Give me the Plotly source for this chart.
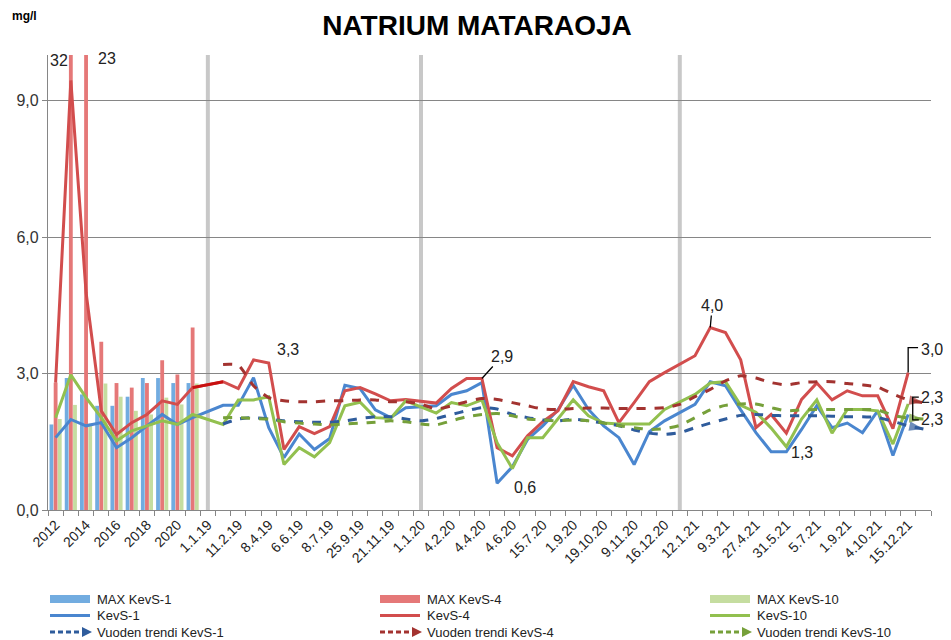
import plotly.graph_objects as go

# yearly maxima / means 2012-2021, then single measurements 2019-2021
years = ["2012", "2013", "2014", "2015", "2016", "2017", "2018", "2019", "2020", "2021"]
tick_labels = ["2012", "2014", "2016", "2018", "2020",
               "1.1.19", "11.2.19", "8.4.19", "6.6.19", "8.7.19", "25.9.19", "21.11.19",
               "1.1.20", "4.2.20", "4.4.20", "4.6.20", "15.7.20", "1.9.20", "19.10.20",
               "9.11.20", "16.12.20", "12.1.21", "9.3.21", "27.4.21", "31.5.21", "5.7.21",
               "1.9.21", "4.10.21", "15.12.21"]
n_cat = 58
year_starts = [10, 24, 41]   # 1.1.19, 1.1.20, 1.1.21
trend_start = 11

max_kevs1 = [1.88, 2.90, 2.54, 2.29, 2.29, 2.49, 2.90, 2.90, 2.79, 2.79]
max_kevs4 = [2.80, 32.0, 23.0, 3.70, 2.79, 2.69, 2.79, 3.29, 2.98, 4.01]
max_kevs10 = [2.00, 2.31, 1.90, 2.78, 2.49, 2.18, 2.10, 2.47, 2.32, 2.78]

kevs1 = [1.59, 1.99, 1.85, 1.92, 1.37, 1.59, 1.85, 2.10, 1.88, 2.03,
         None,
         2.30, 2.30, 2.91, 1.81, 1.15, 1.67, 1.33, 1.57, 2.74, 2.67, 2.20, 2.03, 2.25,
         None,
         2.29, 2.54, 2.62, 2.80, 0.59, 0.95, 1.55, 1.85, 2.20, 2.74, 2.21, 1.85, 1.59, 1.00, 1.72, 1.96,
         None,
         2.32, 2.82, 2.73, 2.20, 1.70, 1.28, 1.28, 1.77, 2.29, 1.81, 1.91, 1.70, 2.18, 1.20, 2.10,
         None]
kevs4 = [2.80, 9.44, 4.78, 2.18, 1.66, 1.92, 2.10, 2.40, 2.32, 2.69,
         None,
         2.82, 2.67, 3.30, 3.23, 1.33, 1.83, 1.68, 1.83, 2.62, 2.69, 2.55, 2.40, 2.43,
         None,
         2.35, 2.67, 2.89, 2.89, 1.37, 1.19, 1.63, 1.94, 2.18, 2.82, 2.71, 2.62, 1.92, 2.36, 2.82, 3.02,
         None,
         3.39, 4.01, 3.90, 3.30, 1.81, 2.10, 1.69, 2.43, 2.79, 2.42, 2.62, 2.51, 2.51, 1.79, 3.02,
         None]
kevs10 = [2.03, 2.97, 2.47, 2.03, 1.52, 1.74, 1.85, 1.96, 1.88, 2.10,
          None,
          1.88, 2.42, 2.42, 2.49, 1.00, 1.37, 1.17, 1.48, 2.29, 2.37, 2.03, 2.01, 2.40,
          None,
          2.13, 2.36, 2.29, 2.42, 1.48, 0.91, 1.59, 1.59, 2.00, 2.42, 2.07, 1.91, 1.89, 1.89, 1.89, 2.21,
          None,
          2.54, 2.79, 2.82, 2.30, 2.15, 1.80, 1.39, 2.00, 2.42, 1.69, 2.21, 2.21, 2.18, 1.45, 2.33,
          None]

trend1 = [1.89, 2.00, 2.03, 2.00, 1.96, 1.94, 1.93, 1.93, 1.96, 2.01, 2.05, 2.05, 2.00,
          1.96,
          2.01, 2.10, 2.18, 2.25, 2.22, 2.10, 2.03, 1.98, 1.96, 2.00, 1.96, 1.91, 1.85, 1.76, 1.69, 1.66,
          1.70,
          1.81, 1.91, 2.00, 2.08, 2.10, 2.08, 2.07, 2.07, 2.07, 2.06, 2.05, 2.05, 2.03, 1.95, 1.85, 1.78]
trend4 = [3.20, 3.18, 2.73, 2.47, 2.40, 2.38, 2.38, 2.40, 2.40, 2.42, 2.42, 2.38, 2.38,
          2.33,
          2.22, 2.29, 2.38, 2.45, 2.43, 2.36, 2.29, 2.22, 2.21, 2.23, 2.24, 2.24, 2.23, 2.23, 2.23, 2.25,
          2.32,
          2.49, 2.65, 2.84, 2.95, 2.90, 2.80, 2.75, 2.80, 2.82, 2.82, 2.78, 2.75, 2.70, 2.55, 2.42, 2.36]
trend10 = [2.03, 2.03, 2.01, 2.00, 1.94, 1.91, 1.89, 1.87, 1.89, 1.91, 1.93, 1.96, 1.94,
           1.89,
           1.87, 1.96, 2.05, 2.10, 2.12, 2.07, 2.00, 1.98, 1.96, 1.98, 1.96, 1.91, 1.85, 1.81, 1.77, 1.79,
           1.86,
           2.03, 2.20, 2.30, 2.33, 2.33, 2.25, 2.18, 2.20, 2.21, 2.21, 2.21, 2.21, 2.20, 2.08, 2.02, 2.00]

y_ticks = [0, 3, 6, 9]
y_tick_labels = ["0,0", "3,0", "6,0", "9,0"]

bar_colors = ["#72ACE0", "#E57878", "#C5DDA0"]
line_colors = ["#4A86CF", "#D24D4D", "#92C04F"]
trend_colors = ["#2F5C9C", "#A33330", "#76A03A"]
names = ["KevS-1", "KevS-4", "KevS-10"]

FONT = "Liberation Sans, Arial, sans-serif"

# the page body adds an 8 px offset, so the figure is a bit smaller than the window
OFF = 8
W, H = 951 - OFF, 640 - OFF
L, R, T = 48 - OFF, 20, 55 - OFF
PH = 455
B = H - T - PH
PW = W - L - R


def px_x(px):
    # screen pixel -> paper coordinate
    return (px - OFF - L) / PW


def px_y(py):
    return (T + PH - (py - OFF)) / PH


fig = go.Figure()

x_years = list(range(len(years)))
for vals, col, nm in zip([max_kevs1, max_kevs4, max_kevs10], bar_colors, names):
    fig.add_trace(go.Bar(x=x_years, y=vals, marker_color=col, marker_line_width=0,
                         name="MAX " + nm, showlegend=False))

x_all = list(range(n_cat))
for vals, col, nm in zip([kevs1, kevs4, kevs10], line_colors, names):
    fig.add_trace(go.Scatter(x=x_all, y=vals, mode="lines", connectgaps=True,
                             line=dict(color=col, width=3), name=nm, showlegend=False))

# KevS-4 link from the yearly part to the first 2019 sample is drawn in pure red
fig.add_trace(go.Scatter(x=[9, 11], y=[kevs4[9], kevs4[11]], mode="lines",
                         line=dict(color="#C81010", width=3), hoverinfo="skip", showlegend=False))

x_trend = list(range(trend_start, n_cat))
for vals, col, nm in zip([trend1, trend4, trend10], trend_colors, names):
    fig.add_trace(go.Scatter(x=x_trend, y=vals, mode="lines",
                             line=dict(color=col, width=3, dash="dash", shape="spline", smoothing=0.6),
                             name="Vuoden trendi " + nm, showlegend=False))
    # arrow head at the end of the trend
    fig.add_trace(go.Scatter(x=x_trend[-2:], y=vals[-2:], mode="markers",
                             marker=dict(symbol="arrow", size=[0, 15], angleref="previous",
                                         color=col, line_width=0),
                             hoverinfo="skip", showlegend=False))

shapes = []
for xs in year_starts:
    shapes.append(dict(type="line", xref="x", yref="y", x0=xs, x1=xs, y0=0, y1=10,
                       line=dict(color="#C8C8C8", width=4), layer="below"))

# bracket for the last KevS-4 value
last = 56
shapes.append(dict(type="path", xref="x", yref="y",
                   path=f"M {last},{kevs4[last]} L {last},{kevs4[last] + 0.55} L {last + 0.65},{kevs4[last] + 0.55}",
                   line=dict(color="black", width=1.3)))
# bracket for the trend end labels
shapes.append(dict(type="path", xref="x", yref="y",
                   path=f"M {last + 0.7},{2.48} L {last + 0.3},{2.48} L {last + 0.3},{1.98} L {last + 0.7},{1.98}",
                   line=dict(color="black", width=1.3)))

annotations = [
    dict(text="mg/l", x=px_x(24), y=px_y(16), xref="paper", yref="paper", showarrow=False,
         xanchor="center", yanchor="middle",
         font=dict(family=FONT, size=12, color="black", weight="bold")),
    dict(text="32", x=0.2, y=9.88, xref="x", yref="y", showarrow=False,
         font=dict(family=FONT, size=16, color="#222")),
    dict(text="23", x=3.4, y=9.92, xref="x", yref="y", showarrow=False,
         font=dict(family=FONT, size=16, color="#222")),
    dict(text="3,3", x=14, y=kevs4[14], xref="x", yref="y", showarrow=False, xshift=19, yshift=14,
         font=dict(family=FONT, size=16, color="#222")),
    dict(text="2,9", x=28, y=kevs4[28], xref="x", yref="y", showarrow=True, arrowhead=0,
         arrowwidth=1.3, arrowcolor="black", ax=20, ay=-22,
         font=dict(family=FONT, size=16, color="#222")),
    dict(text="0,6", x=29, y=kevs1[29], xref="x", yref="y", showarrow=False, xshift=28, yshift=-4,
         font=dict(family=FONT, size=16, color="#222")),
    dict(text="4,0", x=43, y=kevs4[43], xref="x", yref="y", showarrow=True, arrowhead=0,
         arrowwidth=1.3, arrowcolor="black", ax=2, ay=-22,
         font=dict(family=FONT, size=16, color="#222")),
    dict(text="1,3", x=48, y=kevs1[48], xref="x", yref="y", showarrow=False, xshift=16, yshift=-1,
         font=dict(family=FONT, size=16, color="#222")),
    dict(text="3,0", x=last + 0.7, y=kevs4[last] + 0.5, xref="x", yref="y", showarrow=False,
         xanchor="left", font=dict(family=FONT, size=16, color="#222")),
    dict(text="2,3", x=last + 0.7, y=2.48, xref="x", yref="y", showarrow=False,
         xanchor="left", font=dict(family=FONT, size=16, color="#222")),
    dict(text="2,3", x=last + 0.7, y=1.98, xref="x", yref="y", showarrow=False,
         xanchor="left", font=dict(family=FONT, size=16, color="#222")),
]

# legend drawn by hand: three columns (KevS-1, KevS-4, KevS-10)
for c in range(3):
    x0 = 50 + 330 * c
    rows = [599, 615.5, 632]
    # bars
    shapes.append(dict(type="rect", xref="paper", yref="paper",
                       x0=px_x(x0), x1=px_x(x0 + 40), y0=px_y(rows[0] + 4), y1=px_y(rows[0] - 4),
                       fillcolor=bar_colors[c], line_width=0))
    # line
    shapes.append(dict(type="line", xref="paper", yref="paper",
                       x0=px_x(x0), x1=px_x(x0 + 40), y0=px_y(rows[1]), y1=px_y(rows[1]),
                       line=dict(color=line_colors[c], width=3)))
    # trend
    shapes.append(dict(type="line", xref="paper", yref="paper",
                       x0=px_x(x0), x1=px_x(x0 + 32), y0=px_y(rows[2]), y1=px_y(rows[2]),
                       line=dict(color=trend_colors[c], width=3, dash="5px,3px")))
    shapes.append(dict(type="path", xref="paper", yref="paper",
                       path=f"M {px_x(x0 + 32)},{px_y(rows[2] - 5)} L {px_x(x0 + 42)},{px_y(rows[2])} "
                            f"L {px_x(x0 + 32)},{px_y(rows[2] + 5)} Z",
                       fillcolor=trend_colors[c], line_width=0))
    labels = ["MAX " + names[c], names[c], "Vuoden trendi " + names[c]]
    for r in range(3):
        annotations.append(dict(text=labels[r], x=px_x(x0 + 45), y=px_y(rows[r]),
                                xref="paper", yref="paper", xanchor="left", yanchor="middle",
                                showarrow=False,
                                font=dict(family=FONT, size=13, color="#222")))

fig.update_layout(
    width=W, height=H,
    margin=dict(l=L, r=R, t=T, b=B, autoexpand=False),
    plot_bgcolor="white", paper_bgcolor="white",
    title=dict(text="NATRIUM MATARAOJA", x=(477 - OFF) / W, xref="container", xanchor="center",
               y=1 - (25 - OFF) / H, yanchor="middle",
               font=dict(family=FONT, size=28, color="black", weight="bold")),
    barmode="group", bargap=0.18, bargroupgap=0.08,
    showlegend=False,
    shapes=shapes,
    annotations=annotations,
    xaxis=dict(range=[-0.5, n_cat - 0.5], tickmode="array",
               tickvals=list(range(0, 2 * len(tick_labels), 2)), ticktext=tick_labels,
               tickangle=-45, ticks="", showgrid=False, zeroline=False,
               showline=True, linecolor="#868686", linewidth=1.3,
               tickfont=dict(family=FONT, size=14, color="#222"),
               minor=dict(ticks="outside", tick0=-0.5, dtick=1, ticklen=5,
                          tickcolor="#868686", tickwidth=1.2, showgrid=False)),
    yaxis=dict(range=[0, 10], tickmode="array", tickvals=y_ticks, ticktext=y_tick_labels,
               ticks="outside", ticklen=5, tickcolor="#868686",
               showgrid=True, gridcolor="#868686", gridwidth=1.2, zeroline=False,
               showline=True, linecolor="#868686", linewidth=1.3,
               tickfont=dict(family=FONT, size=16, color="#333")),
)

fig.write_html("out.html")
